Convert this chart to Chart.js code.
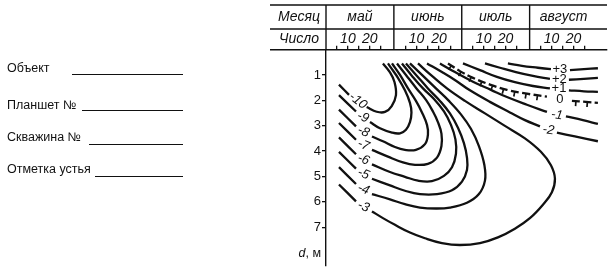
<!DOCTYPE html>
<html>
<head>
<meta charset="utf-8">
<script src="https://cdn.jsdelivr.net/npm/chart.js@4"></script>
<style>
  body { margin: 0; background: #fff; }
  #wrap { position: relative; width: 612px; height: 274px; font-family: "Liberation Sans", Arial, sans-serif; color: #111; }
  #chart { position: absolute; left: 0; top: 0; }
  .field { position: absolute; left: 7px; font-size: 12.5px; line-height: 14px; white-space: nowrap; }
  .rule { position: absolute; height: 1.3px; background: #111; }
</style>
</head>
<body>
<div id="wrap">
  <canvas id="chart" width="612" height="274"></canvas>
  <div class="field" style="top:61px">Объект</div>
  <div class="rule" style="top:74px;left:72px;width:111px"></div>
  <div class="field" style="top:98px">Планшет №</div>
  <div class="rule" style="top:110px;left:82px;width:101px"></div>
  <div class="field" style="top:130px">Скважина №</div>
  <div class="rule" style="top:144px;left:89px;width:94px"></div>
  <div class="field" style="top:162px">Отметка устья</div>
  <div class="rule" style="top:176px;left:95px;width:88px"></div>
</div>
<script>
// x = months since 1 May (0 = май, 1 = июнь ...), y = depth in metres
const months = ['май', 'июнь', 'июль', 'август'];
const monthLen = [31, 30, 31, 31];
const tickDays = [5, 10, 15, 20, 25];
const labelDays = [10, 20];
const depthTicks = [1, 2, 3, 4, 5, 6, 7];

// isotherms, [month, depth]; null = gap where the label sits
const isoM10 = [[0.191,1.376],[0.339,1.781],null,[0.599,2.258],[0.747,2.448],[0.869,2.455],[0.968,2.221],[1.031,1.792],[1.009,1.273],[0.943,0.894],[0.839,0.542]];
const isoM9 = [[0.191,1.792],[0.442,2.437],null,[0.648,2.854],[0.795,3.100],[0.972,3.270],[1.090,3.297],[1.178,3.157],[1.237,2.854],[1.259,2.474],[1.237,2.096],[1.163,1.603],[1.060,1.110],[0.972,0.769],[0.913,0.542]];
const isoM8 = [[0.191,2.361],[0.442,3.024],null,[0.677,3.422],[0.839,3.611],[1.016,3.839],[1.163,3.952],[1.325,3.952],[1.458,3.725],[1.502,3.346],[1.488,2.967],[1.414,2.474],[1.325,2.020],[1.208,1.527],[1.090,0.997],[0.972,0.542]];
const isoM7 = [[0.191,2.891],[0.442,3.554],null,[0.677,3.952],[0.913,4.218],[1.134,4.445],[1.311,4.540],[1.502,4.502],[1.635,4.255],[1.701,3.801],[1.701,3.308],[1.649,2.854],[1.576,2.437],[1.473,1.982],[1.333,1.527],[1.178,0.997],[1.046,0.542]];
const isoM6 = [[0.191,3.460],[0.442,4.123],null,[0.677,4.521],[0.943,4.824],[1.163,5.013],[1.355,5.165],[1.561,5.184],[1.738,4.975],[1.856,4.634],[1.915,4.104],[1.907,3.535],[1.841,2.967],[1.738,2.437],[1.591,1.944],[1.429,1.527],[1.267,1.034],[1.119,0.542]];
const isoM5 = [[0.191,4.028],[0.442,4.691],null,[0.677,5.089],[0.943,5.354],[1.163,5.563],[1.384,5.695],[1.635,5.695],[1.856,5.544],[2.003,5.203],[2.077,4.748],[2.077,4.255],[2.032,3.687],[1.944,3.081],[1.826,2.512],[1.679,2.020],[1.502,1.527],[1.340,1.034],[1.178,0.542]];
const isoM4 = [[0.191,4.634],[0.442,5.297],null,[0.677,5.695],[0.943,5.904],[1.163,6.093],[1.384,6.226],[1.620,6.264],[1.826,6.226],[2.077,6.036],[2.253,5.695],[2.342,5.165],[2.334,4.558],[2.253,3.801],[2.135,3.119],[1.988,2.550],[1.811,2.020],[1.620,1.527],[1.429,1.034],[1.237,0.542]];
const isoM3 = [[0.191,5.316],[0.442,5.980],null,[0.677,6.378],[0.839,6.643],[1.016,6.908],[1.237,7.211],[1.458,7.438],[1.708,7.628],[1.973,7.704],[2.268,7.628],[2.533,7.401],[2.783,7.060],[3.004,6.643],[3.196,6.112],[3.328,5.620],[3.373,5.089],[3.314,4.558],[3.166,4.028],[2.931,3.498],[2.636,3.005],[2.342,2.512],[2.047,2.020],[1.782,1.527],[1.561,1.034],[1.355,0.542]];
const isoM2 = [[1.488,0.542],[1.708,0.883],[1.915,1.224],[2.121,1.603],[2.415,2.058],[2.710,2.474],[2.931,2.778],[3.152,3.024],null,[3.402,3.270],[3.667,3.422],[4.006,3.611]];
const isoM1 = [[1.679,0.542],[1.900,0.883],[2.165,1.262],[2.430,1.584],[2.666,1.868],[2.960,2.171],[3.255,2.455],null,[3.535,2.626],[3.785,2.778],[4.006,2.929]];
const iso0 = [[1.797,0.542],[1.973,0.845],[2.165,1.110],[2.415,1.376],[2.666,1.584],[2.960,1.736],[3.255,1.849],null,[3.623,2.020],[3.829,2.058],[4.006,2.096]];
const isoP1 = [[2.018,0.542],[2.268,0.807],[2.518,1.072],[2.783,1.281],[3.049,1.432],[3.299,1.527],null,[3.579,1.603],[3.800,1.641],[4.006,1.660]];
const isoP2 = [[2.342,0.542],[2.563,0.712],[2.798,0.883],[3.049,1.034],[3.299,1.148],null,[3.579,1.186],[3.800,1.148],[4.006,1.110]];
const isoP3 = [[2.680,0.542],[2.887,0.637],[3.122,0.712],[3.314,0.769],null,[3.594,0.807],[3.800,0.769],[4.006,0.731]];

// label of each isotherm: [month, depth, text]
const isoLabels = [
  [0.471, 2.020, '-10'], [0.545, 2.664, '-9'], [0.552, 3.232, '-8'], [0.552, 3.763, '-7'],
  [0.552, 4.331, '-6'], [0.552, 4.900, '-5'], [0.552, 5.506, '-4'], [0.552, 6.188, '-3'],
  [3.277, 3.168, '-2'], [3.402, 2.577, '-1'], [3.446, 1.944, '0'],
  [3.432, 1.546, '+1'], [3.439, 1.186, '+2'], [3.446, 0.788, '+3']
];

const FONT = '"Liberation Sans", Arial, sans-serif';
const INK = '#111';

// ---- ticks on the day row ----
const xTickValues = [];
const xTickLabels = [];
months.forEach((m, i) => {
  tickDays.forEach(d => {
    xTickValues.push(i + d / monthLen[i]);
    xTickLabels.push(labelDays.includes(d) ? String(d) : '');
  });
});

// ---- datasets, one per unbroken piece of an isotherm ----
const isotherms = [isoM10, isoM9, isoM8, isoM7, isoM6, isoM5, isoM4, isoM3, isoM2, isoM1, iso0, isoP1, isoP2, isoP3];
const datasets = [];
isotherms.forEach(iso => {
  const frost = iso === iso0;
  let piece = [];
  const flush = () => {
    if (piece.length) {
      datasets.push({
        data: piece, showLine: true, borderColor: INK, borderWidth: 2.3,
        pointRadius: 0, tension: 0.4, fill: false,
        borderDash: frost ? [8, 3.5] : [], frostLine: frost
      });
    }
    piece = [];
  };
  iso.forEach(p => { if (p === null) flush(); else piece.push({ x: p[0], y: p[1] }); });
  flush();
});

// ---- header table, month names, contour labels ----
const headerPlugin = {
  id: 'header',
  afterDraw(chart) {
    const { ctx, chartArea: ca } = chart;
    const x = chart.scales.x, y = chart.scales.y;
    const top = 5, mid = 29, bot = ca.top, left = 270;
    ctx.save();
    ctx.strokeStyle = INK;
    ctx.lineWidth = 1.4;
    ctx.beginPath();
    ctx.moveTo(left, top); ctx.lineTo(ca.right, top);
    ctx.moveTo(left, mid); ctx.lineTo(ca.right, mid);
    ctx.moveTo(left, bot); ctx.lineTo(ca.left, bot);
    ctx.moveTo(ca.left, top); ctx.lineTo(ca.left, bot);
    for (let m = 1; m < months.length; m++) {
      const px = x.getPixelForValue(m);
      ctx.moveTo(px, top); ctx.lineTo(px, bot);
    }
    ctx.stroke();

    ctx.fillStyle = INK;
    ctx.textAlign = 'center';
    ctx.textBaseline = 'middle';
    ctx.font = 'italic 14px ' + FONT;
    ctx.fillText('Месяц', 299, 17);
    ctx.fillText('Число', 299, 39.5);
    months.forEach((name, m) => ctx.fillText(name, x.getPixelForValue(m + 0.5), 17));

    // axis title d, м
    ctx.textAlign = 'right';
    ctx.font = '12.5px ' + FONT;
    const tail = ', м';
    const tw = ctx.measureText(tail).width;
    const ty = ca.bottom - 12;
    ctx.fillText(tail, 321, ty);
    ctx.font = 'italic 12.5px ' + FONT;
    ctx.fillText('d', 321 - tw, ty);

    // isotherm labels
    isoLabels.forEach(([lx, ld, txt]) => {
      const px = x.getPixelForValue(lx), py = y.getPixelForValue(ld);
      const neg = txt.startsWith('-');
      const left = lx < 1;
      ctx.save();
      ctx.translate(px, py);
      ctx.rotate((left ? (txt === '-10' ? 38 : 22) : (neg ? 8 : 0)) * Math.PI / 180);
      ctx.font = (neg ? 'italic ' : '') + '13px ' + FONT;
      ctx.textAlign = 'center';
      ctx.fillText(txt, 0, 0);
      ctx.restore();
    });
    ctx.restore();
  }
};

// ---- hatch marks on the 0 isotherm (frost boundary) ----
function bezierAt(a, b, t) {
  if (a.cp2x === undefined || b.cp1x === undefined) return { x: a.x + (b.x - a.x) * t, y: a.y + (b.y - a.y) * t };
  const u = 1 - t;
  return {
    x: u*u*u*a.x + 3*u*u*t*a.cp2x + 3*u*t*t*b.cp1x + t*t*t*b.x,
    y: u*u*u*a.y + 3*u*u*t*a.cp2y + 3*u*t*t*b.cp1y + t*t*t*b.y
  };
}
const frostPlugin = {
  id: 'frost',
  afterDatasetsDraw(chart) {
    const ctx = chart.ctx;
    chart.data.datasets.forEach((ds, i) => {
      if (!ds.frostLine) return;
      const pts = chart.getDatasetMeta(i).data;
      const poly = [];
      for (let k = 0; k < pts.length - 1; k++) {
        for (let s = 0; s < 20; s++) poly.push(bezierAt(pts[k], pts[k + 1], s / 20));
      }
      poly.push({ x: pts[pts.length - 1].x, y: pts[pts.length - 1].y });
      ctx.save();
      ctx.strokeStyle = INK;
      ctx.lineWidth = 1.7;
      ctx.beginPath();
      let run = 0, next = 4;
      for (let j = 0; j < poly.length - 1; j++) {
        const a = poly[j], b = poly[j + 1];
        const L = Math.hypot(b.x - a.x, b.y - a.y);
        if (!L) continue;
        while (next <= run + L) {
          const f = (next - run) / L;
          const px = a.x + (b.x - a.x) * f, py = a.y + (b.y - a.y) * f;
          const tx = (b.x - a.x) / L, ty = (b.y - a.y) / L;
          ctx.moveTo(px, py);
          ctx.lineTo(px - ty * 5, py + tx * 5);
          next += 11.5;
        }
        run += L;
      }
      ctx.stroke();
      ctx.restore();
    });
  }
};

new Chart(document.getElementById('chart'), {
  type: 'scatter',
  data: { datasets },
  options: {
    responsive: false,
    animation: false,
    events: [],
    layout: { padding: { top: 5, right: 5, bottom: 0, left: 0 } },
    plugins: { legend: { display: false }, tooltip: { enabled: false } },
    scales: {
      x: {
        type: 'linear', position: 'top', min: 0, max: 4.14,
        afterFit(s) { s.height = 44.7; },
        afterBuildTicks(s) { s.ticks = xTickValues.map(v => ({ value: v })); },
        ticks: {
          callback: (v, i) => xTickLabels[i],
          autoSkip: false, maxRotation: 0, padding: 0, color: INK,
          font: { family: FONT, size: 14, style: 'italic', lineHeight: 1 }
        },
        grid: { drawOnChartArea: false, tickLength: 4, color: INK, lineWidth: 1.3 },
        border: { color: INK, width: 1.4 }
      },
      y: {
        type: 'linear', reverse: true, min: 0, max: 8.5,
        afterFit(s) { s.width = 326; },
        afterBuildTicks(s) { s.ticks = depthTicks.map(v => ({ value: v })); },
        ticks: { padding: 1, color: INK, font: { family: FONT, size: 13 } },
        grid: { drawOnChartArea: false, tickLength: 4, color: INK, lineWidth: 1.3 },
        border: { color: INK, width: 1.4 }
      }
    }
  },
  plugins: [headerPlugin, frostPlugin]
});
</script>
</body>
</html>
